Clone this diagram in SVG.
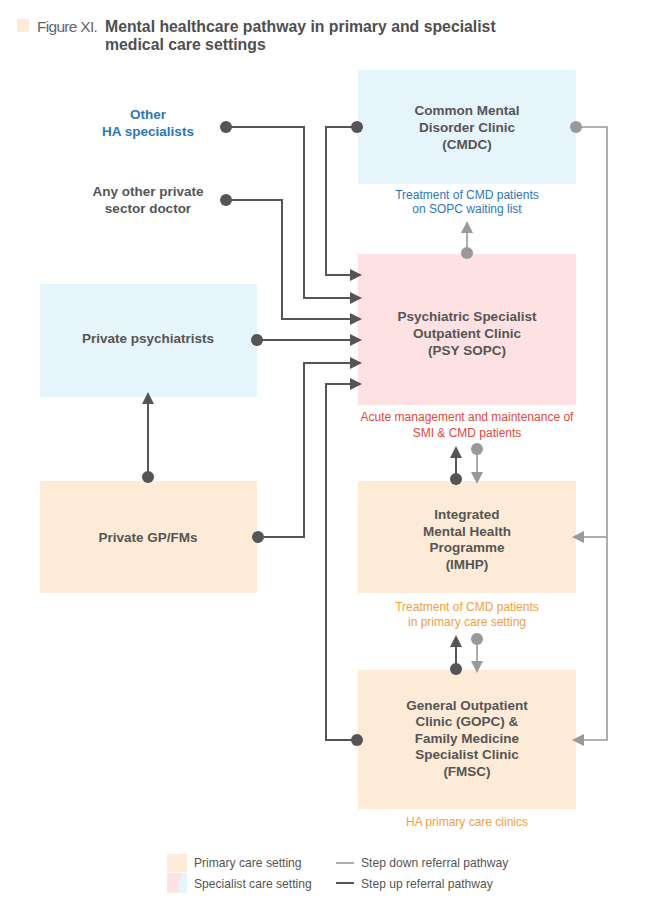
<svg xmlns="http://www.w3.org/2000/svg" width="660" height="913" viewBox="0 0 660 913">
<style>
  text { font-family: "Liberation Sans", Arial, sans-serif; }
  .node { font-size: 13.5px; font-weight: bold; fill: #555555; text-anchor: middle; }
  .src { font-size: 13.5px; font-weight: bold; fill: #555555; text-anchor: middle; }
  .srcblue { font-size: 13.5px; font-weight: bold; fill: #2b78b5; text-anchor: middle; }
  .cap { font-size: 12px; text-anchor: middle; }
  .blue { fill: #2b78b5; }
  .red { fill: #e2473a; }
  .orange { fill: #f0a040; }
  .leg { font-size: 12.1px; fill: #555555; }
  .up { fill: none; stroke: #555555; stroke-width: 2; }
  .down { fill: none; stroke: #999999; stroke-width: 1.6; }
  .dotup { fill: #555555; }
  .dotdown { fill: #999999; }
  .spec { fill: #e6f4fc; }
  .psy { fill: #fde1e3; }
  .prim { fill: #fdebd7; }
</style>
<defs>
  <marker id="ahUp" viewBox="0 0 12 12" refX="0" refY="6" markerWidth="12" markerHeight="12" markerUnits="userSpaceOnUse" orient="auto">
    <path d="M0,0 L12,6 L0,12 z" fill="#555555"/>
  </marker>
  <marker id="ahDown" viewBox="0 0 12 12" refX="0" refY="6" markerWidth="12" markerHeight="12" markerUnits="userSpaceOnUse" orient="auto">
    <path d="M0,0 L12,6 L0,12 z" fill="#999999"/>
  </marker>
</defs>

<g id="title">
  <rect x="17" y="19" width="12" height="13" fill="#fdebd7"/>
  <text x="37" y="32" font-size="15.5px" fill="#666666" letter-spacing="-0.7">Figure XI.</text>
  <text x="105" y="32" font-size="15.8px" font-weight="bold" fill="#4f4f4f">Mental healthcare pathway in primary and specialist</text>
  <text x="105" y="50" font-size="15.8px" font-weight="bold" fill="#4f4f4f">medical care settings</text>
</g>

<g id="other-ha">
  <text class="srcblue" x="148" y="119">Other</text>
  <text class="srcblue" x="148" y="136">HA specialists</text>
</g>
<g id="any-other-private">
  <text class="src" x="148" y="196">Any other private</text>
  <text class="src" x="148" y="213">sector doctor</text>
</g>

<g id="cmdc">
  <rect class="spec" x="358" y="70" width="218" height="114"/>
  <text class="node" x="467" y="115">Common Mental</text>
  <text class="node" x="467" y="132">Disorder Clinic</text>
  <text class="node" x="467" y="149">(CMDC)</text>
  <text class="cap blue" x="467" y="199">Treatment of CMD patients</text>
  <text class="cap blue" x="467" y="213">on SOPC waiting list</text>
</g>

<g id="psy-sopc">
  <rect class="psy" x="358" y="254" width="218" height="151"/>
  <text class="node" x="467" y="321">Psychiatric Specialist</text>
  <text class="node" x="467" y="338">Outpatient Clinic</text>
  <text class="node" x="467" y="355">(PSY SOPC)</text>
  <text class="cap red" x="467" y="421">Acute management and maintenance of</text>
  <text class="cap red" x="467" y="437">SMI &amp; CMD patients</text>
</g>

<g id="private-psychiatrists">
  <rect class="spec" x="40" y="284" width="217" height="113"/>
  <text class="node" x="148" y="343">Private psychiatrists</text>
</g>

<g id="private-gp">
  <rect class="prim" x="40" y="481" width="217" height="112"/>
  <text class="node" x="148" y="542">Private GP/FMs</text>
</g>

<g id="imhp">
  <rect class="prim" x="358" y="481" width="218" height="112"/>
  <text class="node" x="467" y="519">Integrated</text>
  <text class="node" x="467" y="536">Mental Health</text>
  <text class="node" x="467" y="552">Programme</text>
  <text class="node" x="467" y="569">(IMHP)</text>
  <text class="cap orange" x="467" y="611">Treatment of CMD patients</text>
  <text class="cap orange" x="467" y="626">in primary care setting</text>
</g>

<g id="gopc">
  <rect class="prim" x="358" y="670" width="218" height="139"/>
  <text class="node" x="467" y="710">General Outpatient</text>
  <text class="node" x="467" y="726">Clinic (GOPC) &amp;</text>
  <text class="node" x="467" y="743">Family Medicine</text>
  <text class="node" x="467" y="759">Specialist Clinic</text>
  <text class="node" x="467" y="776">(FMSC)</text>
  <text class="cap orange" x="467" y="826">HA primary care clinics</text>
</g>

<g id="connectors">
  <path class="up" d="M357,127 H326 V275 H350" marker-end="url(#ahUp)"/>
  <circle class="dotup" cx="357" cy="127" r="6"/>
  <path class="up" d="M226,127 H304 V298 H350" marker-end="url(#ahUp)"/>
  <circle class="dotup" cx="226" cy="127" r="6"/>
  <path class="up" d="M226,200 H282 V319 H350" marker-end="url(#ahUp)"/>
  <circle class="dotup" cx="226" cy="200" r="6"/>
  <path class="up" d="M257,340 H350" marker-end="url(#ahUp)"/>
  <circle class="dotup" cx="257" cy="340" r="6"/>
  <path class="up" d="M258,537 H304 V363 H350" marker-end="url(#ahUp)"/>
  <circle class="dotup" cx="258" cy="537" r="6"/>
  <path class="up" d="M357,740 H326 V384 H350" marker-end="url(#ahUp)"/>
  <circle class="dotup" cx="357" cy="740" r="6"/>
  <path class="up" d="M148,477 V404" marker-end="url(#ahUp)"/>
  <circle class="dotup" cx="148" cy="477" r="6"/>
  <path class="down" d="M467,253 V233" marker-end="url(#ahDown)"/>
  <circle class="dotdown" cx="467" cy="253" r="6"/>
  <path class="up" d="M456,479 V458" marker-end="url(#ahUp)"/>
  <circle class="dotup" cx="456" cy="479" r="6"/>
  <path class="down" d="M477,449 V472" marker-end="url(#ahDown)"/>
  <circle class="dotdown" cx="477" cy="449" r="6"/>
  <path class="up" d="M456,669 V647" marker-end="url(#ahUp)"/>
  <circle class="dotup" cx="456" cy="669" r="6"/>
  <path class="down" d="M477,639 V661" marker-end="url(#ahDown)"/>
  <circle class="dotdown" cx="477" cy="639" r="6"/>
  <path class="down" d="M576,127 H607 V740 H584" marker-end="url(#ahDown)"/>
  <path class="down" d="M607,537 H584" marker-end="url(#ahDown)"/>
  <circle class="dotdown" cx="576" cy="127" r="6"/>
</g>

<g id="legend">
  <rect class="prim" x="167" y="854" width="20" height="18"/>
  <polygon class="psy" points="167,873 182,873 177,893 167,893"/>
  <polygon class="spec" points="182,873 187,873 187,893 177,893"/>
  <text class="leg" x="194" y="867">Primary care setting</text>
  <text class="leg" x="194" y="888">Specialist care setting</text>
  <line x1="336" y1="863" x2="354" y2="863" stroke="#999999" stroke-width="1.6"/>
  <line x1="336" y1="883" x2="354" y2="883" stroke="#555555" stroke-width="2"/>
  <text class="leg" x="361" y="867">Step down referral pathway</text>
  <text class="leg" x="361" y="888">Step up referral pathway</text>
</g>
</svg>
